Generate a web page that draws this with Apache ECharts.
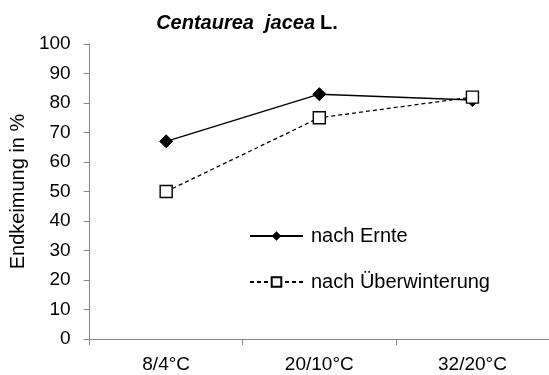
<!DOCTYPE html>
<html><head><meta charset="utf-8">
<script src="https://cdn.jsdelivr.net/npm/echarts@6/dist/echarts.min.js"></script>
<style>html,body{margin:0;padding:0;background:#fff}#c{width:549px;height:375px}</style>
</head><body><div id="c"></div>
<script>
const categories = ['8/4°C', '20/10°C', '32/20°C'];
const nachErnte = [67, 83, 81];
const nachUeberwinterung = [50, 75, 82];
const yTicks = [0, 10, 20, 30, 40, 50, 60, 70, 80, 90, 100];

const chart = echarts.init(document.getElementById('c'), null, {renderer: 'canvas'});
const ff = 'Liberation Sans, Arial, sans-serif';
chart.setOption({
  animation: false,
  title: {
    text: '{i|Centaurea  jacea} {b|L.}',
    left: 242, textAlign: 'center', top: 8,
    textStyle: { rich: {
      i: {fontFamily: ff, fontSize: 20, fontWeight: 'bold', fontStyle: 'italic', color: '#000'},
      b: {fontFamily: ff, fontSize: 20, fontWeight: 'bold', color: '#000'}
    }}
  },
  grid: {left: 89, top: 44, right: -5, bottom: 36},
  legend: {
    orient: 'vertical', left: 249, top: 226, itemGap: 26, padding: 0,
    itemWidth: 53, itemHeight: 12,
    textStyle: {fontFamily: ff, fontSize: 20, color: '#000', padding: [0,0,0,3]},
    data: ['nach Ernte', 'nach Überwinterung']
  },
  xAxis: {
    type: 'category', data: categories, boundaryGap: true,
    axisLine: {lineStyle: {color: '#868686', width: 1}},
    axisTick: {show: true, length: 6, lineStyle: {color: '#868686'}},
    axisLabel: {fontFamily: ff, fontSize: 19, color: '#000', margin: 16}
  },
  yAxis: {
    type: 'value', min: 0, max: 100, interval: 10,
    name: 'Endkeimung in %', nameLocation: 'middle', nameGap: 59,
    nameTextStyle: {fontFamily: ff, fontSize: 20, color: '#000'},
    axisLine: {show: true, lineStyle: {color: '#868686'}},
    axisTick: {show: true, length: 6, inside: false, lineStyle: {color: '#868686'}},
    axisLabel: {fontFamily: ff, fontSize: 19, color: '#000', margin: 19,
      formatter: v => yTicks.includes(v) ? String(v) : ''},
    splitLine: {show: false}
  },
  series: [
    {
      name: 'nach Ernte', type: 'line', data: nachErnte,
      symbol: 'diamond', symbolSize: 13,
      lineStyle: {color: '#000', width: 1.5},
      itemStyle: {color: '#000', borderColor: '#000'},
      z: 2
    },
    {
      name: 'nach Überwinterung', type: 'line', data: nachUeberwinterung,
      symbol: 'rect', symbolSize: 12,
      lineStyle: {color: '#000', width: 1.3, type: [4, 3]},
      itemStyle: {color: '#fff', borderColor: '#000', borderWidth: 1.4},
      z: 3
    }
  ]
});
</script></body></html>
